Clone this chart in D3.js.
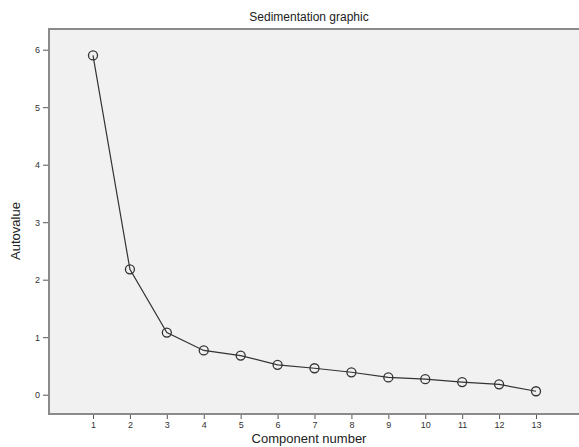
<!DOCTYPE html>
<html>
<head>
<meta charset="utf-8">
<title>Sedimentation graphic</title>
<script src="https://cdnjs.cloudflare.com/ajax/libs/d3/7.8.5/d3.min.js"></script>
<style>
body { margin: 0; background: #fff; }
svg { display: block; font-family: "Liberation Sans", Arial, sans-serif; }
.frame { fill: #f1f1f1; stroke: #8a8a8a; stroke-width: 2; }
.axis text { font-size: 9px; fill: #333; }
.axis line { stroke: #555; }
.axis path { display: none; }
.line { fill: none; stroke: #333; stroke-width: 1.2; }
.dot { fill: none; stroke: #333; stroke-width: 1.3; }
.title { font-size: 12px; fill: #222; }
.label { font-size: 13px; fill: #222; }
</style>
</head>
<body>
<svg width="579" height="447"></svg>
<script>
var components = [1, 2, 3, 4, 5, 6, 7, 8, 9, 10, 11, 12, 13];
var eigenvalues = [5.9, 2.18, 1.08, 0.77, 0.68, 0.52, 0.46, 0.39, 0.30, 0.27, 0.22, 0.18, 0.06];
var yTicks = [0, 1, 2, 3, 4, 5, 6];

var svg = d3.select("svg");
var plotLeft = 49, plotTop = 29, plotRight = 580, plotBottom = 414;

var x = d3.scaleLinear().domain([1, 13]).range([93, 536]);
var y = d3.scaleLinear().domain([0, 6]).range([394.7, 49.7]);

svg.append("rect")
  .attr("class", "frame")
  .attr("x", plotLeft)
  .attr("y", plotTop)
  .attr("width", plotRight - plotLeft)
  .attr("height", plotBottom - plotTop);

svg.append("g")
  .attr("class", "axis")
  .attr("transform", "translate(" + (plotLeft - 1) + ",0)")
  .call(d3.axisLeft(y).tickValues(yTicks).tickSize(5).tickPadding(3).tickFormat(d3.format("d")));

svg.append("g")
  .attr("class", "axis")
  .attr("transform", "translate(0," + (plotBottom + 1) + ")")
  .call(d3.axisBottom(x).tickValues(components).tickSize(4).tickPadding(3).tickFormat(d3.format("d")));

var line = d3.line()
  .x(function(d, i) { return x(components[i]); })
  .y(function(d) { return y(d); });

svg.append("path")
  .datum(eigenvalues)
  .attr("class", "line")
  .attr("d", line);

svg.selectAll(".dot")
  .data(eigenvalues)
  .enter()
    .append("circle")
    .attr("class", "dot")
    .attr("cx", function(d, i) { return x(components[i]); })
    .attr("cy", function(d) { return y(d); })
    .attr("r", 4.5);

svg.append("text")
  .attr("class", "title")
  .attr("x", 309)
  .attr("y", 21)
  .attr("text-anchor", "middle")
  .text("Sedimentation graphic");

svg.append("text")
  .attr("class", "label")
  .attr("x", 309)
  .attr("y", 443)
  .attr("text-anchor", "middle")
  .text("Component number");

svg.append("text")
  .attr("class", "label")
  .attr("transform", "translate(20,231) rotate(-90)")
  .attr("text-anchor", "middle")
  .text("Autovalue");
</script>
</body>
</html>
